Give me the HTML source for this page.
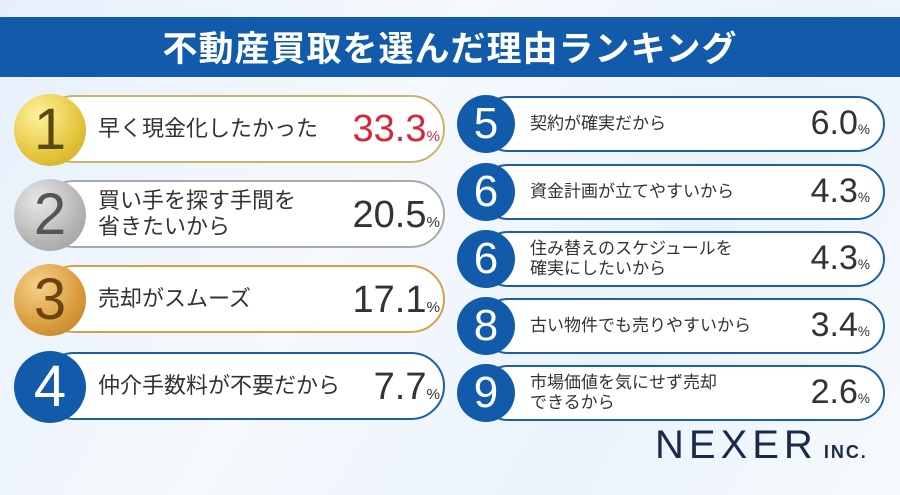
<!DOCTYPE html>
<html><head><meta charset="utf-8"><style>
body{margin:0;width:900px;height:495px;overflow:hidden;position:relative;font-family:"Liberation Sans","Noto Sans CJK JP",sans-serif;background:linear-gradient(120deg,#e6f0fb 0%,#f5f9fd 40%,#eaf3fc 70%,#f7fafd 100%);}
.title{position:absolute;left:0;top:17px;width:900px;height:60px;background:#115baa;color:#fff;text-align:center;font-size:35px;line-height:60px;font-weight:bold;font-family:"Noto Sans CJK JP",sans-serif;letter-spacing:1px}
.pill{position:absolute;background:#fff;border-radius:40px;box-sizing:border-box;}
.circ{position:absolute;border-radius:50%;color:#fff;text-align:center;font-family:"Liberation Sans",sans-serif;}
.lab{position:absolute;color:#333;font-family:"Noto Sans CJK JP",sans-serif;line-height:1.2}
.pct{position:absolute;color:#333;font-family:"Liberation Sans",sans-serif;text-align:right}
.pct small{font-size:40%}
</style></head><body>
<div class="title">不動産買取を選んだ理由ランキング</div>

<div class="pill" style="left:40px;top:95px;width:405px;height:68px;border:2px solid #c9b56a"></div>
<div class="circ" style="left:14px;top:94px;width:72px;height:72px;background:radial-gradient(circle at 35% 30%,#fff3a0,#e3c43a 60%,#c9a425);color:#5a4a10;font-size:58px;line-height:72px">1</div>
<div class="lab" style="left:98px;top:114px;font-size:22px">早く現金化したかった</div>
<div class="pct" style="right:460px;top:108px;font-size:38px;color:#d9263a">33.3<small>%</small></div>

<div class="pill" style="left:40px;top:180px;width:405px;height:68px;border:2px solid #aaa"></div>
<div class="circ" style="left:14px;top:179px;width:72px;height:72px;background:radial-gradient(circle at 35% 30%,#e8e8e8,#b5b5b5 60%,#999);color:#555;font-size:58px;line-height:72px">2</div>
<div class="lab" style="left:98px;top:186px;font-size:22px">買い手を探す手間を<br>省きたいから</div>
<div class="pct" style="right:460px;top:194px;font-size:38px">20.5<small>%</small></div>

<div class="pill" style="left:40px;top:265px;width:405px;height:68px;border:2px solid #d4a04a"></div>
<div class="circ" style="left:14px;top:264px;width:72px;height:72px;background:radial-gradient(circle at 35% 30%,#f7d28a,#d99a3c 60%,#b87a25);color:#6b4410;font-size:58px;line-height:72px">3</div>
<div class="lab" style="left:98px;top:284px;font-size:22px">売却がスムーズ</div>
<div class="pct" style="right:460px;top:279px;font-size:38px">17.1<small>%</small></div>

<div class="pill" style="left:40px;top:352px;width:405px;height:68px;border:2px solid #1d5ea5"></div>
<div class="circ" style="left:14px;top:351px;width:72px;height:72px;background:#115baa;font-size:58px;line-height:72px">4</div>
<div class="lab" style="left:98px;top:371px;font-size:22px">仲介手数料が不要だから</div>
<div class="pct" style="right:460px;top:366px;font-size:38px">7.7<small>%</small></div>

<div class="pill" style="left:480px;top:96px;width:405px;height:56px;border:2px solid #1d5ea5"></div>
<div class="circ" style="left:457px;top:95px;width:58px;height:58px;background:#115baa;font-size:44px;line-height:58px">5</div>
<div class="lab" style="left:530px;top:112px;font-size:17px">契約が確実だから</div>
<div class="pct" style="right:30px;top:104px;font-size:34px">6.0<small>%</small></div>

<div class="pill" style="left:480px;top:164px;width:405px;height:56px;border:2px solid #1d5ea5"></div>
<div class="circ" style="left:457px;top:163px;width:58px;height:58px;background:#115baa;font-size:44px;line-height:58px">6</div>
<div class="lab" style="left:530px;top:180px;font-size:17px">資金計画が立てやすいから</div>
<div class="pct" style="right:30px;top:172px;font-size:34px">4.3<small>%</small></div>

<div class="pill" style="left:480px;top:231px;width:405px;height:56px;border:2px solid #1d5ea5"></div>
<div class="circ" style="left:457px;top:230px;width:58px;height:58px;background:#115baa;font-size:44px;line-height:58px">6</div>
<div class="lab" style="left:530px;top:237px;font-size:17px">住み替えのスケジュールを<br>確実にしたいから</div>
<div class="pct" style="right:30px;top:239px;font-size:34px">4.3<small>%</small></div>

<div class="pill" style="left:480px;top:298px;width:405px;height:56px;border:2px solid #1d5ea5"></div>
<div class="circ" style="left:457px;top:297px;width:58px;height:58px;background:#115baa;font-size:44px;line-height:58px">8</div>
<div class="lab" style="left:530px;top:314px;font-size:17px">古い物件でも売りやすいから</div>
<div class="pct" style="right:30px;top:306px;font-size:34px">3.4<small>%</small></div>

<div class="pill" style="left:480px;top:365px;width:405px;height:56px;border:2px solid #1d5ea5"></div>
<div class="circ" style="left:457px;top:364px;width:58px;height:58px;background:#115baa;font-size:44px;line-height:58px">9</div>
<div class="lab" style="left:530px;top:371px;font-size:17px">市場価値を気にせず売却<br>できるから</div>
<div class="pct" style="right:30px;top:373px;font-size:34px">2.6<small>%</small></div>

<div style="position:absolute;left:655px;top:423px;color:#1a2a4a;font-size:40px;letter-spacing:5px;font-family:'Liberation Sans',sans-serif">NEXER<span style="font-size:18px;letter-spacing:2px;font-weight:bold;margin-left:6px">INC.</span></div>
</body></html>
